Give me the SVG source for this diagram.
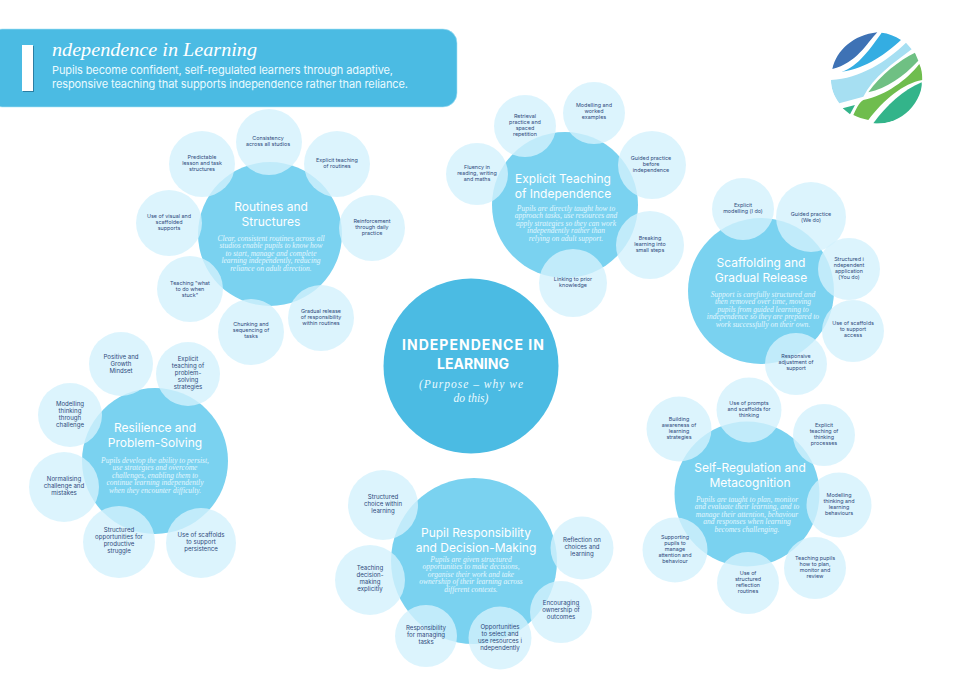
<svg xmlns="http://www.w3.org/2000/svg" width="959" height="676" viewBox="0 0 959 676">
<style>
text{text-anchor:middle}
.m{fill:#7ad2f0}
.c{fill:#4bbbe3}
.s{fill:#d3f1fd;fill-opacity:.8}
.t{font-family:Inter,"Liberation Sans",sans-serif;font-size:12px;fill:#fff}
.d{font-family:"Liberation Serif",serif;font-style:italic;font-size:7.5px;fill:#e2f7ff}
.l{font-family:Inter,"Liberation Sans",sans-serif;font-size:5.4px;fill:#2f4a7c}
.b{font-size:6.1px}
</style>
<defs><clipPath id="lg"><circle cx="230" cy="173" r="138"/></clipPath></defs>
<rect width="959" height="676" fill="#fff"/>
<g id="header">
<rect x="-12" y="29" width="469" height="78" rx="14" fill="#4bbbe3" stroke="#a9e2f5" stroke-width=".6"/>
<rect x="23" y="46" width="11" height="46" fill="#2b7ea3"/>
<rect x="22" y="45" width="11" height="46" fill="#fff"/>
<text x="52" y="56" style="text-anchor:start;font-family:'Liberation Serif',serif;font-style:italic;font-size:19px;fill:#fff" textLength="205" lengthAdjust="spacingAndGlyphs">ndependence in Learning</text>
<text x="52" y="74" style="text-anchor:start;font-family:Inter,'Liberation Sans',sans-serif;font-size:11px;fill:#eafaff" textLength="341">Pupils become confident, self-regulated learners through adaptive,</text>
<text x="52" y="88" style="text-anchor:start;font-family:Inter,'Liberation Sans',sans-serif;font-size:11px;fill:#eafaff" textLength="356">responsive teaching that supports independence rather than reliance.</text>
</g>
<g id="logo" transform="translate(800 20) scale(.3333)" clip-path="url(#lg)">
<path fill="#3e72b5" d="M97 147C110 90 160 45 232 37C200 70 170 130 97 147Z"/>
<path fill="#34ade2" d="M125 155C175 140 215 80 245 38C265 40 285 48 303 60C260 100 200 145 125 155Z"/>
<path fill="#a6dff2" d="M93 180C180 175 260 125 318 68L335 88C280 130 220 170 190 230L118 250C100 225 93 205 93 180Z"/>
<path fill="#6fc083" d="M205 217C240 165 300 120 345 98L355 122C310 170 260 205 205 217Z"/>
<path fill="#6fbd4e" d="M160 285C170 265 175 250 190 240C260 225 320 180 358 132C365 145 367 165 367 180C310 190 250 240 205 300C190 297 172 292 160 285Z"/>
<path fill="#33b48a" d="M128 265L165 255L150 283Z"/>
<path fill="#33b48a" d="M220 310C260 255 310 210 365 187C370 250 310 318 220 310Z"/>
</g>
<g id="connectors"/>
<g id="centre">
<circle class="c" cx="471" cy="366" r="87.5"/>
<text x="473" y="350" style="font-family:Inter,'Liberation Sans',sans-serif;font-weight:700;font-size:14px;fill:#fff" textLength="142">INDEPENDENCE IN</text>
<text x="473" y="369" style="font-family:Inter,'Liberation Sans',sans-serif;font-weight:700;font-size:14px;fill:#fff">LEARNING</text>
<text x="471" y="388" style="font-family:'Liberation Serif',serif;font-style:italic;font-size:11.5px;fill:#eafaff" textLength="104">(Purpose – why we</text>
<text x="471" y="402" style="font-family:'Liberation Serif',serif;font-style:italic;font-size:11.5px;fill:#eafaff">do this)</text>
</g>
<g id="routines">
<circle class="m" cx="270" cy="234" r="72"/>
<text class="t" x="271" y="211">Routines and</text><text class="t" x="271" y="226">Structures</text>
<text class="d" x="271" y="241">Clear, consistent routines across all</text><text class="d" x="271" y="248.4">studios enable pupils to know how</text><text class="d" x="271" y="255.8">to start, manage and complete</text><text class="d" x="271" y="263.2">learning independently, reducing</text><text class="d" x="271" y="270.6">reliance on adult direction.</text>
</g>
<g id="routines-1"><circle class="s" cx="269" cy="142" r="33"/><text class="l" x="268" y="140">Consistency</text><text class="l" x="268" y="146">across all studios</text></g>
<g id="routines-2"><circle class="s" cx="337" cy="164" r="33"/><text class="l" x="337" y="162">Explicit teaching</text><text class="l" x="337" y="168">of routines</text></g>
<g id="routines-3"><circle class="s" cx="372" cy="228" r="33"/><text class="l" x="372" y="223">Reinforcement</text><text class="l" x="372" y="229">through daily</text><text class="l" x="372" y="235">practice</text></g>
<g id="routines-4"><circle class="s" cx="321" cy="318" r="33"/><text class="l" x="321" y="313">Gradual release</text><text class="l" x="321" y="319">of responsibility</text><text class="l" x="321" y="325">within routines</text></g>
<g id="routines-5"><circle class="s" cx="251" cy="332" r="33"/><text class="l" x="251" y="326">Chunking and</text><text class="l" x="251" y="332">sequencing of</text><text class="l" x="251" y="338">tasks</text></g>
<g id="routines-6"><circle class="s" cx="190" cy="289" r="33"/><text class="l" x="190" y="285">Teaching "what</text><text class="l" x="190" y="291">to do when</text><text class="l" x="190" y="297">stuck"</text></g>
<g id="routines-7"><circle class="s" cx="169" cy="223" r="33"/><text class="l" x="169" y="218">Use of visual and</text><text class="l" x="169" y="224">scaffolded</text><text class="l" x="169" y="230">supports</text></g>
<g id="routines-8"><circle class="s" cx="202" cy="164" r="33"/><text class="l" x="202" y="159">Predictable</text><text class="l" x="202" y="165">lesson and task</text><text class="l" x="202" y="171">structures</text></g>
<g id="explicit">
<circle class="m" cx="565" cy="205" r="73"/>
<text class="t" x="563" y="183">Explicit Teaching</text><text class="t" x="563" y="198">of Independence</text>
<text class="d" x="566" y="211">Pupils are directly taught how to</text><text class="d" x="566" y="218.4">approach tasks, use resources and</text><text class="d" x="566" y="225.8">apply strategies so they can work</text><text class="d" x="566" y="233.2">independently rather than</text><text class="d" x="566" y="240.6">relying on adult support.</text>
</g>
<g id="explicit-1"><circle class="s" cx="525" cy="126" r="31"/><text class="l" x="525" y="118">Retrieval</text><text class="l" x="525" y="124">practice and</text><text class="l" x="525" y="130">spaced</text><text class="l" x="525" y="136">repetition</text></g>
<g id="explicit-2"><circle class="s" cx="594" cy="113" r="31"/><text class="l" x="594" y="107">Modelling and</text><text class="l" x="594" y="113">worked</text><text class="l" x="594" y="119">examples</text></g>
<g id="explicit-3"><circle class="s" cx="652" cy="165" r="34"/><text class="l" x="651" y="160">Guided practice</text><text class="l" x="651" y="166">before</text><text class="l" x="651" y="172">independence</text></g>
<g id="explicit-4"><circle class="s" cx="650" cy="245" r="34"/><text class="l" x="650" y="240">Breaking</text><text class="l" x="650" y="246">learning into</text><text class="l" x="650" y="252">small steps</text></g>
<g id="explicit-5"><circle class="s" cx="573" cy="283" r="34"/><text class="l" x="573" y="281">Linking to prior</text><text class="l" x="573" y="287">knowledge</text></g>
<g id="explicit-6"><circle class="s" cx="477" cy="174" r="31"/><text class="l" x="477" y="169">Fluency in</text><text class="l" x="477" y="175">reading, writing</text><text class="l" x="477" y="181">and maths</text></g>
<g id="scaffolding">
<circle class="m" cx="761" cy="291" r="73"/>
<text class="t" x="761" y="267">Scaffolding and</text><text class="t" x="761" y="282">Gradual Release</text>
<text class="d" x="763" y="297">Support is carefully structured and</text><text class="d" x="763" y="304.4">then removed over time, moving</text><text class="d" x="763" y="311.8">pupils from guided learning to</text><text class="d" x="763" y="319.2">independence so they are prepared to</text><text class="d" x="763" y="326.6">work successfully on their own.</text>
</g>
<g id="scaffolding-1"><circle class="s" cx="743" cy="209" r="31"/><text class="l" x="743" y="207">Explicit</text><text class="l" x="743" y="213">modelling (I do)</text></g>
<g id="scaffolding-2"><circle class="s" cx="811" cy="217" r="35"/><text class="l" x="811" y="216">Guided practice</text><text class="l" x="811" y="222">(We do)</text></g>
<g id="scaffolding-3"><circle class="s" cx="849" cy="269" r="31"/><text class="l" x="849" y="261">Structured i</text><text class="l" x="849" y="267">ndependent</text><text class="l" x="849" y="273">application</text><text class="l" x="849" y="279">(You do)</text></g>
<g id="scaffolding-4"><circle class="s" cx="853" cy="331" r="31"/><text class="l" x="853" y="325">Use of scaffolds</text><text class="l" x="853" y="331">to support</text><text class="l" x="853" y="337">access</text></g>
<g id="scaffolding-5"><circle class="s" cx="796" cy="364" r="31"/><text class="l" x="796" y="358">Responsive</text><text class="l" x="796" y="364">adjustment of</text><text class="l" x="796" y="370">support</text></g>
<g id="selfreg">
<circle class="m" cx="747" cy="494" r="72.5"/>
<text class="t" x="750" y="472">Self-Regulation and</text><text class="t" x="750" y="487">Metacognition</text>
<text class="d" x="747" y="502">Pupils are taught to plan, monitor</text><text class="d" x="747" y="509.4">and evaluate their learning, and to</text><text class="d" x="747" y="516.8">manage their attention, behaviour</text><text class="d" x="747" y="524.2">and responses when learning</text><text class="d" x="747" y="531.6">becomes challenging.</text>
</g>
<g id="selfreg-1"><circle class="s" cx="749" cy="410" r="32.5"/><text class="l" x="749" y="405">Use of prompts</text><text class="l" x="749" y="411">and scaffolds for</text><text class="l" x="749" y="417">thinking</text></g>
<g id="selfreg-2"><circle class="s" cx="824" cy="435" r="31"/><text class="l" x="824" y="427">Explicit</text><text class="l" x="824" y="433">teaching of</text><text class="l" x="824" y="439">thinking</text><text class="l" x="824" y="445">processes</text></g>
<g id="selfreg-3"><circle class="s" cx="839" cy="505" r="32.5"/><text class="l" x="839" y="497">Modelling</text><text class="l" x="839" y="503">thinking and</text><text class="l" x="839" y="509">learning</text><text class="l" x="839" y="515">behaviours</text></g>
<g id="selfreg-4"><circle class="s" cx="815" cy="568" r="31"/><text class="l" x="815" y="560">Teaching pupils</text><text class="l" x="815" y="566">how to plan,</text><text class="l" x="815" y="572">monitor and</text><text class="l" x="815" y="578">review</text></g>
<g id="selfreg-5"><circle class="s" cx="748" cy="583" r="31"/><text class="l" x="748" y="575">Use of</text><text class="l" x="748" y="581">structured</text><text class="l" x="748" y="587">reflection</text><text class="l" x="748" y="593">routines</text></g>
<g id="selfreg-6"><circle class="s" cx="675" cy="550" r="32.5"/><text class="l" x="675" y="539">Supporting</text><text class="l" x="675" y="545">pupils to</text><text class="l" x="675" y="551">manage</text><text class="l" x="675" y="557">attention and</text><text class="l" x="675" y="563">behaviour</text></g>
<g id="selfreg-7"><circle class="s" cx="679" cy="429" r="32.5"/><text class="l" x="679" y="421">Building</text><text class="l" x="679" y="427">awareness of</text><text class="l" x="679" y="433">learning</text><text class="l" x="679" y="439">strategies</text></g>
<g id="pupil">
<circle class="m" cx="474" cy="561" r="83"/>
<text class="t" x="476" y="537">Pupil Responsibility</text><text class="t" x="476" y="552">and Decision-Making</text>
<text class="d" x="471" y="562">Pupils are given structured</text><text class="d" x="471" y="569.4">opportunities to make decisions,</text><text class="d" x="471" y="576.8">organise their work and take</text><text class="d" x="471" y="584.2">ownership of their learning across</text><text class="d" x="471" y="591.6">different contexts.</text>
</g>
<g id="pupil-1"><circle class="s" cx="383" cy="505" r="35"/><text class="l b" x="383" y="499">Structured</text><text class="l b" x="383" y="506">choice within</text><text class="l b" x="383" y="513">learning</text></g>
<g id="pupil-2"><circle class="s" cx="370" cy="580" r="35"/><text class="l b" x="370" y="570">Teaching</text><text class="l b" x="370" y="577">decision-</text><text class="l b" x="370" y="584">making</text><text class="l b" x="370" y="591">explicitly</text></g>
<g id="pupil-3"><circle class="s" cx="426" cy="636" r="31"/><text class="l b" x="426" y="630">Responsibility</text><text class="l b" x="426" y="637">for managing</text><text class="l b" x="426" y="644">tasks</text></g>
<g id="pupil-4"><circle class="s" cx="500" cy="638" r="31.5"/><text class="l b" x="500" y="629">Opportunities</text><text class="l b" x="500" y="636">to select and</text><text class="l b" x="500" y="643">use resources i</text><text class="l b" x="500" y="650">ndependently</text></g>
<g id="pupil-5"><circle class="s" cx="561" cy="612" r="31"/><text class="l b" x="561" y="605">Encouraging</text><text class="l b" x="561" y="612">ownership of</text><text class="l b" x="561" y="619">outcomes</text></g>
<g id="pupil-6"><circle class="s" cx="582" cy="548" r="31.5"/><text class="l b" x="582" y="542">Reflection on</text><text class="l b" x="582" y="549">choices and</text><text class="l b" x="582" y="556">learning</text></g>
<g id="resilience">
<circle class="m" cx="155" cy="461" r="73"/>
<text class="t" x="155" y="432">Resilience and</text><text class="t" x="155" y="447">Problem-Solving</text>
<text class="d" x="155" y="463">Pupils develop the ability to persist,</text><text class="d" x="155" y="470.4">use strategies and overcome</text><text class="d" x="155" y="477.8">challenges, enabling them to</text><text class="d" x="155" y="485.2">continue learning independently</text><text class="d" x="155" y="492.6">when they encounter difficulty.</text>
</g>
<g id="resilience-1"><circle class="s" cx="121" cy="364" r="32"/><text class="l b" x="121" y="359">Positive and</text><text class="l b" x="121" y="366">Growth</text><text class="l b" x="121" y="373">Mindset</text></g>
<g id="resilience-2"><circle class="s" cx="188" cy="374" r="32"/><text class="l b" x="188" y="361">Explicit</text><text class="l b" x="188" y="368">teaching of</text><text class="l b" x="188" y="375">problem-</text><text class="l b" x="188" y="382">solving</text><text class="l b" x="188" y="389">strategies</text></g>
<g id="resilience-3"><circle class="s" cx="70" cy="415" r="32"/><text class="l b" x="70" y="406">Modelling</text><text class="l b" x="70" y="413">thinking</text><text class="l b" x="70" y="420">through</text><text class="l b" x="70" y="427">challenge</text></g>
<g id="resilience-4"><circle class="s" cx="64" cy="487" r="35"/><text class="l b" x="64" y="481">Normalising</text><text class="l b" x="64" y="488">challenge and</text><text class="l b" x="64" y="495">mistakes</text></g>
<g id="resilience-5"><circle class="s" cx="119" cy="542" r="36"/><text class="l b" x="119" y="532">Structured</text><text class="l b" x="119" y="539">opportunities for</text><text class="l b" x="119" y="546">productive</text><text class="l b" x="119" y="553">struggle</text></g>
<g id="resilience-6"><circle class="s" cx="201" cy="543" r="35"/><text class="l b" x="201" y="537">Use of scaffolds</text><text class="l b" x="201" y="544">to support</text><text class="l b" x="201" y="551">persistence</text></g>
</svg>
